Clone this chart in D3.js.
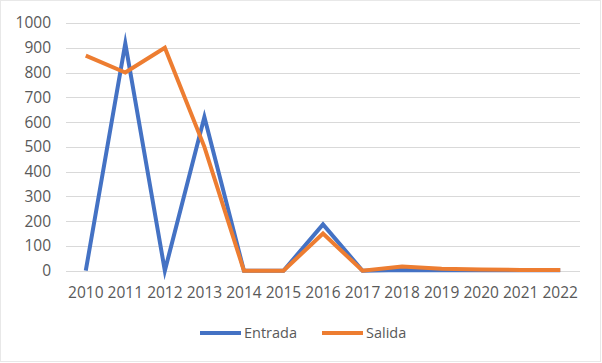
<!DOCTYPE html>
<html>
<head>
  <meta charset="utf-8">
  <script src="https://d3js.org/d3.v7.min.js"></script>
  <style>
    body { margin: 0; background: #fff; }
    text { font-family: "Open Sans", "Noto Sans", sans-serif; fill: #595959; }
  </style>
</head>
<body>
  <div id="chart"></div>
  <script type="text/javascript">
  var years = ["2010","2011","2012","2013","2014","2015","2016","2017","2018","2019","2020","2021","2022"];
  var entrada = [0, 918, 0, 620, 0, 0, 187, 0, 3, 2, 2, 2, 2];
  var salida = [868, 800, 900, 500, 0, 0, 150, 0, 17, 8, 5, 3, 3];
  var yTicks = [0, 100, 200, 300, 400, 500, 600, 700, 800, 900, 1000];
  var seriesNames = ["Entrada", "Salida"];
  var colors = ["#4472C4", "#ED7D31"];

  var width = 602, height = 363;
  var margin = { top: 23, right: 22, bottom: 93, left: 66 };

  var svg = d3.select("#chart").append("svg")
      .attr("width", width)
      .attr("height", height);

  // chart border
  svg.append("rect")
      .attr("x", 0.5).attr("y", 0.5)
      .attr("width", width - 2).attr("height", height - 2)
      .attr("fill", "none")
      .attr("stroke", "#d0d0d0")
      .attr("stroke-dasharray", "1,1");

  var x = d3.scaleBand()
      .domain(years)
      .range([margin.left, width - margin.right]);

  var y = d3.scaleLinear()
      .domain([0, 1000])
      .range([height - margin.bottom + 0.7, margin.top]);

  // gridlines
  svg.append("g").selectAll("line")
      .data(yTicks)
    .enter().append("line")
      .attr("x1", margin.left)
      .attr("x2", width - margin.right)
      .attr("y1", function(d) { return Math.round(y(d)) + 0.5; })
      .attr("y2", function(d) { return Math.round(y(d)) + 0.5; })
      .attr("stroke", "#d9d9d9")
      .attr("stroke-width", 1);

  var yAxis = svg.append("g")
      .attr("transform", "translate(" + (margin.left - 15) + ",0)")
      .call(d3.axisLeft(y).tickValues(yTicks).tickFormat(d3.format("d")).tickSize(0).tickPadding(0));
  yAxis.select(".domain").remove();
  yAxis.selectAll("text").style("font-size", "15.5px").attr("fill", "#595959");

  var xAxis = svg.append("g")
      .attr("transform", "translate(0," + (height - margin.bottom + 17) + ")")
      .call(d3.axisBottom(x).tickSize(0).tickPadding(0));
  xAxis.select(".domain").remove();
  xAxis.selectAll("text").style("font-size", "15.5px").attr("fill", "#595959").attr("dy", "0.71em");

  var line = d3.line()
      .x(function(d, i) { return x(years[i]) + x.bandwidth() / 2; })
      .y(function(d) { return y(d); });

  [entrada, salida].forEach(function(values, i) {
    svg.append("path")
        .datum(values)
        .attr("d", line)
        .attr("fill", "none")
        .attr("stroke", colors[i])
        .attr("stroke-width", 4)
        .attr("stroke-linejoin", "miter")
        .attr("stroke-miterlimit", 10);
  });

  // legend
  var legendX = [200, 322];
  var legend = svg.selectAll(".legend")
      .data(seriesNames)
    .enter().append("g")
      .attr("class", "legend")
      .attr("transform", function(d, i) { return "translate(" + legendX[i] + ",333)"; });

  legend.append("line")
      .attr("x1", 0).attr("x2", 41)
      .attr("stroke", function(d, i) { return colors[i]; })
      .attr("stroke-width", 4);

  legend.append("text")
      .attr("x", 44)
      .attr("dy", "0.35em")
      .style("font-size", "14.5px")
      .text(function(d) { return d; });
  </script>
</body>
</html>
